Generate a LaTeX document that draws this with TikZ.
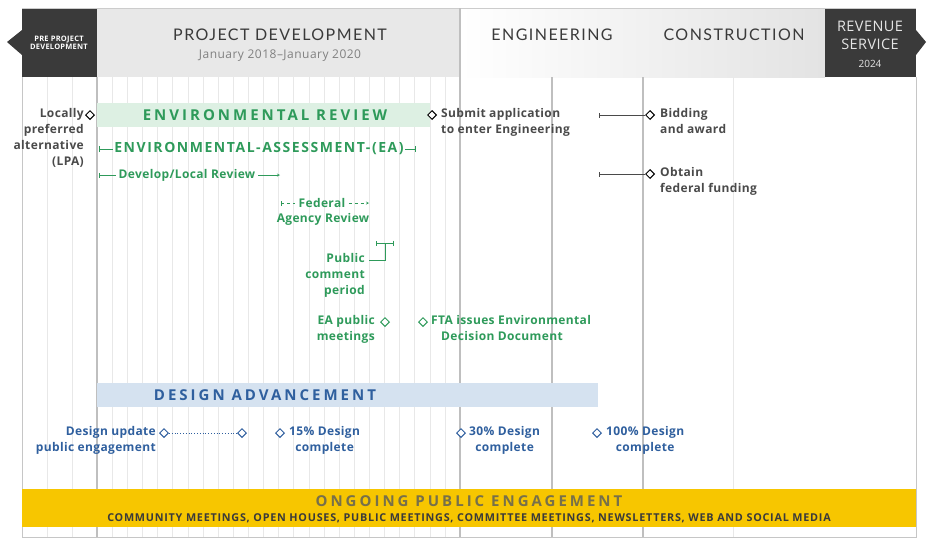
\documentclass[tikz,border=0pt]{standalone}
\usepackage{fontspec}
\setmainfont{Open Sans}
\newfontfamily\headfont{Lato}
\usetikzlibrary{positioning,shapes.geometric,arrows.meta}

\definecolor{envgreen}{HTML}{2E9A5A}
\definecolor{envfill}{HTML}{DDF0E3}
\definecolor{dsgblue}{HTML}{2F5F9E}
\definecolor{dsgfill}{HTML}{D5E2F0}
\definecolor{darkbox}{HTML}{3A3A3A}
\definecolor{hdrgray}{HTML}{E8E8E8}
\definecolor{txtgray}{HTML}{4A4A4A}
\definecolor{opeyellow}{HTML}{F7C600}
\definecolor{opetext}{HTML}{77704A}

\begin{document}
\begin{tikzpicture}[x=1pt, y=-1pt,
  >=stealth,
  ms/.style={draw, diamond, fill=white, inner sep=0pt, minimum size=9pt, line width=1pt},
  smalltxt/.style={font=\fontsize{12}{16}\selectfont\bfseries\addfontfeatures{LetterSpace=3}, inner sep=0pt},
  headtxt/.style={font=\headfont\fontsize{16}{18}\selectfont\addfontfeatures{LetterSpace=9}, text=darkbox},
  bartxt/.style={font=\fontsize{15}{18}\selectfont\bfseries\addfontfeatures{LetterSpace=20}},
  grid/.style={gray!18, line width=0.5pt},
  divider/.style={gray!50, line width=1.2pt}
]
  \useasboundingbox (0,0) rectangle (927,544);

  % header
  \fill[hdrgray] (97,8) rectangle (460,77);
  \shade[left color=white, right color=gray!22] (460,8) rectangle (825,77);
  \fill[darkbox] (22,8) rectangle (97,77);
  \fill[darkbox] (22,30) -- (7,42) -- (22,55) -- cycle;
  \fill[darkbox] (825,8) rectangle (916,77);
  \fill[darkbox] (916,30) -- (926,42) -- (916,55) -- cycle;

  % grid
  \foreach \x in {47,72,733} \draw[grid] (\x,77) -- (\x,537);
  \foreach \i in {1,...,23} \draw[grid] (97+\i*15.125,77) -- (97+\i*15.125,537);
  \draw[gray!40, line width=0.8pt] (22,8) -- (916,8);
  \draw[gray!45, line width=1pt] (22,77) -- (22,537) -- (916,537) -- (916,77);
  \draw[divider] (97,77) -- (97,537);
  \draw[divider] (460,8) -- (460,537);
  \draw[divider] (552,77) -- (552,537);
  \draw[divider] (643,77) -- (643,537);

  \node[font=\fontsize{7.5}{8.5}\selectfont\bfseries\addfontfeatures{LetterSpace=3}, text=white, align=center] (pre) at (59,43) {PRE PROJECT\\DEVELOPMENT};
  \node[headtxt] (pd) at (280,35) {PROJECT DEVELOPMENT};
  \node[font=\fontsize{12}{14}\selectfont\addfontfeatures{LetterSpace=4}, text=gray] (pddate) at (280,56) {January 2018–January 2020};
  \node[headtxt] (eng) at (552,35) {ENGINEERING};
  \node[headtxt] (con) at (734,35) {CONSTRUCTION};
  \node[font=\fontsize{14.5}{18}\selectfont\addfontfeatures{LetterSpace=3}, text=gray!20, align=center] (rev) at (870,35) {REVENUE\\SERVICE};
  \node[font=\fontsize{10}{12}\selectfont, text=gray!20] (revyr) at (870,64) {2024};

  % environmental review
  \fill[envfill] (97,103) rectangle (430,127);
  \node[bartxt, text=envgreen] (envrev) at (265,115) {ENVIRONMENTAL REVIEW};

  \node[ms] (lpa) at (90,115) {};
  \node[smalltxt, text=txtgray, anchor=north east, align=right] (lpatxt) at (84,108) {Locally\\preferred\\alternative\\(LPA)};
  \node[ms] (sub) at (432,115) {};
  \node[smalltxt, text=txtgray, anchor=north west, align=left] (subtxt) at (441,108) {Submit application\\to enter Engineering};

  \coordinate (eaL) at (99,149);
  \coordinate (eaR) at (416,149);
  \node[font=\fontsize{14}{16}\selectfont\bfseries\addfontfeatures{LetterSpace=11}, text=envgreen, inner sep=1pt] (ea) at (259,149) {ENVIRONMENTAL-ASSESSMENT-(EA)};
  \draw[envgreen, thick, {Bar[width=6pt]}-] (eaL) -- (ea.west);
  \draw[envgreen, thick, -{Bar[width=6pt]}] (ea.east) -- (eaR);

  \coordinate (dlL) at (99,175);
  \coordinate (dlR) at (280,175);
  \node[smalltxt, text=envgreen, inner sep=3pt] (dlr) at (187,175) {Develop/Local Review};
  \draw[envgreen, {Bar[width=5pt]}-] (dlL) -- (dlr.west);
  \draw[envgreen, ->] (dlr.east) -- (dlR);

  \coordinate (fedL) at (281,203);
  \coordinate (fedR) at (369,203);
  \node[smalltxt, text=envgreen, inner sep=3pt] (fed) at (322,203) {Federal};
  \node[smalltxt, text=envgreen] (agency) at (323,219) {Agency Review};
  \draw[envgreen, dashed, {Bar[width=5pt]}-] (fedL) -- (fed.west);
  \draw[envgreen, dashed, ->] (fed.east) -- (fedR);

  \coordinate (pcL) at (376,243);
  \coordinate (pcR) at (393,243);
  \coordinate (pcM) at (385,243);
  \draw[envgreen, {Bar[width=5pt]}-{Bar[width=5pt]}] (pcL) -- (pcR);
  \node[smalltxt, text=envgreen, anchor=north east, align=right] (pcp) at (365,253) {Public\\comment\\period};
  \coordinate (pcA) at (369,260);
  \draw[envgreen] (pcA) -| (pcM);

  \node[ms, draw=envgreen] (eapm) at (385,322) {};
  \node[smalltxt, text=envgreen, anchor=north east, align=right] (eapmtxt) at (375,315) {EA public\\meetings};
  \node[ms, draw=envgreen] (fta) at (423,322) {};
  \node[smalltxt, text=envgreen, anchor=north west, align=left] (ftatxt) at (431,315) {FTA issues Environmental\\\hspace{10pt}Decision Document};

  % engineering / construction milestones
  \coordinate (bidL) at (599,115);
  \node[ms] (bid) at (650,115) {};
  \node[smalltxt, text=txtgray, anchor=north west, align=left] (bidtxt) at (660,108) {Bidding\\and award};
  \draw[txtgray, {Bar[width=5pt]}-] (bidL) -- (bid);
  \coordinate (fundL) at (599,174);
  \node[ms] (fund) at (650,174) {};
  \node[smalltxt, text=txtgray, anchor=north west, align=left] (fundtxt) at (660,167) {Obtain\\federal funding};
  \draw[txtgray, {Bar[width=5pt]}-] (fundL) -- (fund);

  % design advancement
  \fill[dsgfill] (97,383) rectangle (598,407);
  \node[bartxt, text=dsgblue] (dsg) at (265,395) {DESIGN ADVANCEMENT};

  \node[ms, draw=dsgblue] (du1) at (164,433) {};
  \node[ms, draw=dsgblue] (du2) at (242,433) {};
  \draw[dsgblue, dotted, thick] (du1) -- (du2);
  \node[smalltxt, text=dsgblue, anchor=north east, align=right] (dutxt) at (156,426) {Design update\\public engagement};
  \node[ms, draw=dsgblue] (d15) at (280,433) {};
  \node[smalltxt, text=dsgblue, anchor=north west, align=center] (d15txt) at (289,426) {15\% Design\\complete};
  \node[ms, draw=dsgblue] (d30) at (461,433) {};
  \node[smalltxt, text=dsgblue, anchor=north west, align=center] (d30txt) at (469,426) {30\% Design\\complete};
  \node[ms, draw=dsgblue] (d100) at (597,433) {};
  \node[smalltxt, text=dsgblue, anchor=north west, align=center] (d100txt) at (606,426) {100\% Design\\complete};

  % ongoing public engagement
  \fill[opeyellow] (22,489) rectangle (916,527);
  \node[bartxt, text=opetext] (ope) at (469,501) {ONGOING PUBLIC ENGAGEMENT};
  \node[font=\fontsize{10.8}{12}\selectfont\bfseries\addfontfeatures{LetterSpace=7}, text=darkbox] (opesub) at (469,518) {COMMUNITY MEETINGS, OPEN HOUSES, PUBLIC MEETINGS, COMMITTEE MEETINGS, NEWSLETTERS, WEB AND SOCIAL MEDIA};
\end{tikzpicture}
\end{document}
